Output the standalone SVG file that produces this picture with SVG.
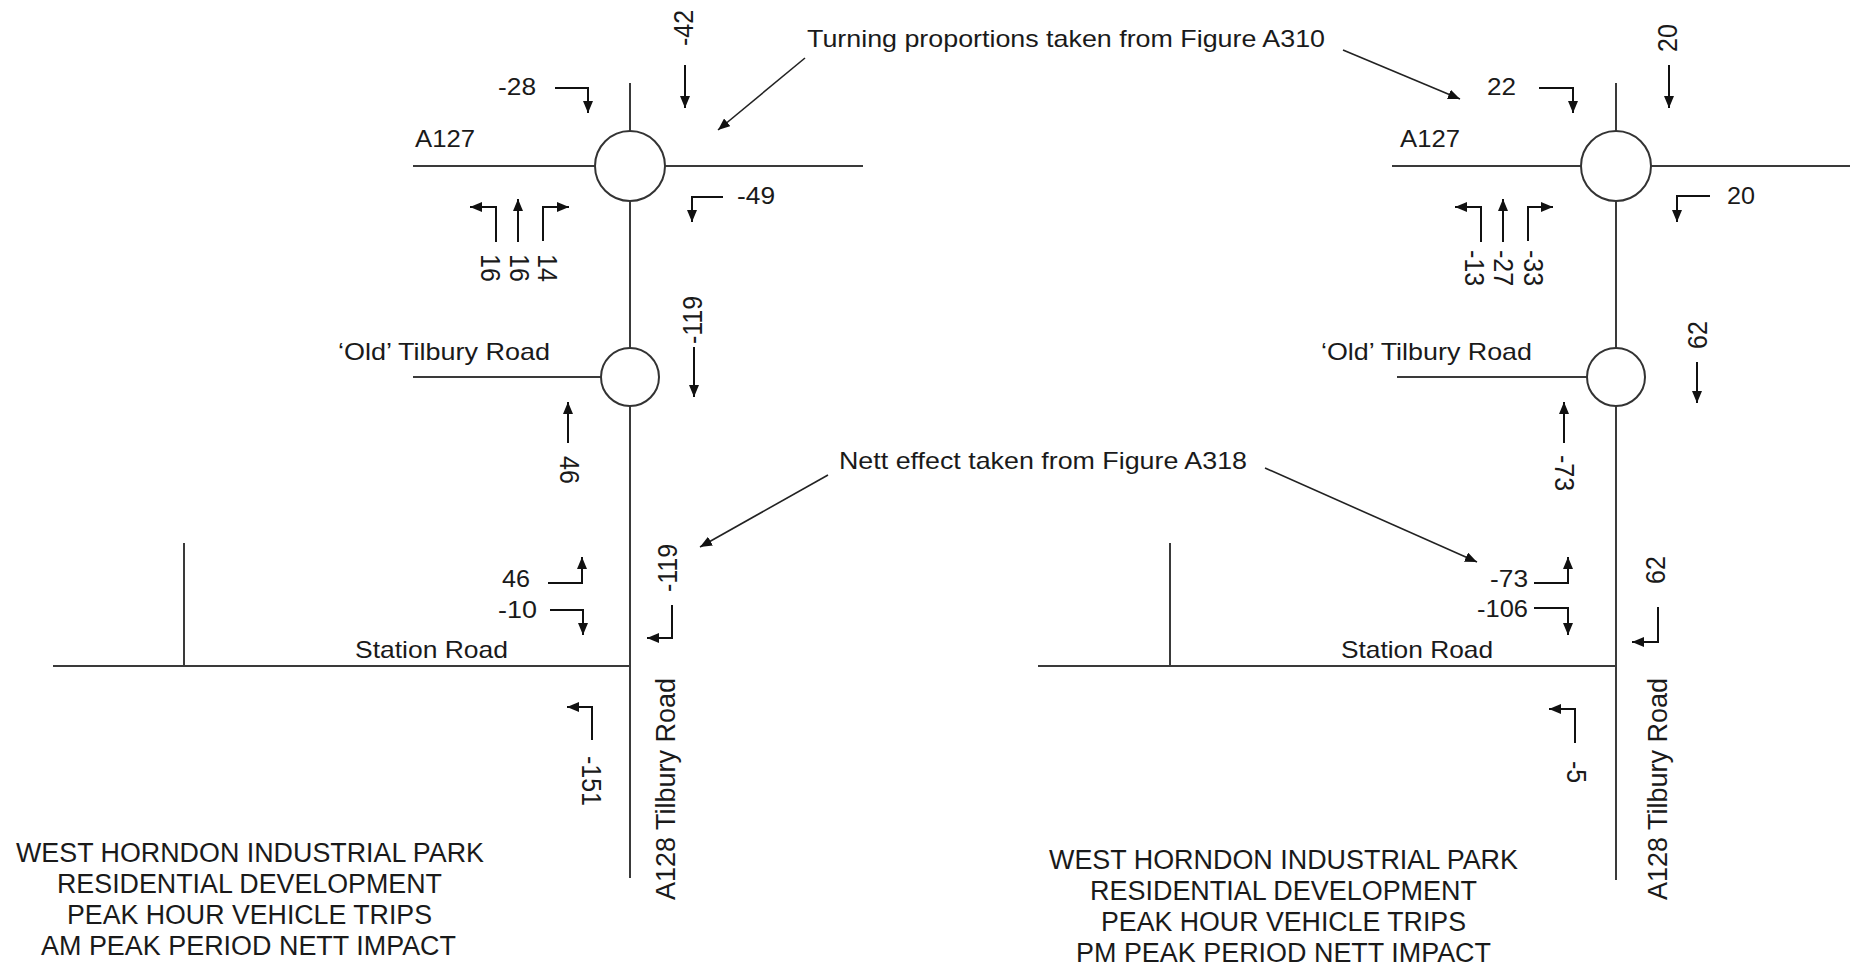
<svg xmlns="http://www.w3.org/2000/svg" width="1855" height="968" viewBox="0 0 1855 968">
<style>
.road{stroke:#3a3a3a;stroke-width:2;fill:none}
.rb{stroke:#333;stroke-width:2;fill:#fff}
.arr{stroke:#111;stroke-width:2;fill:none;marker-end:url(#ah)}
.ptr{stroke:#222;stroke-width:1.6;fill:none;marker-end:url(#ah)}
text{font-family:"Liberation Sans",Arial,sans-serif;fill:#1a1a1a}
.t{font-size:24px}
.ti{font-size:27px;text-anchor:start}
.r{font-size:25px;text-anchor:middle}
</style>
<defs>
<marker id="ah" viewBox="0 0 12 10" refX="12" refY="5" markerWidth="12" markerHeight="10" markerUnits="userSpaceOnUse" orient="auto">
<path d="M0,0 L12,5 L0,10 z" fill="#111"/>
</marker>
</defs>
<rect width="1855" height="968" fill="#fff"/>

<!-- LEFT DIAGRAM -->
<g id="left-roads">
<path class="road" d="M413,166 H863"/>
<path class="road" d="M630,83 V878"/>
<path class="road" d="M413,377 H601"/>
<path class="road" d="M53,666 H630"/>
<path class="road" d="M184,543 V666"/>
</g>
<g id="left-a127-roundabout"><circle class="rb" cx="630" cy="166" r="35"/></g>
<g id="left-oldtilbury-roundabout"><circle class="rb" cx="630" cy="377" r="29"/></g>

<g id="left-connectors">
<path class="arr" d="M555,88 H588 V113"/>
<path class="arr" d="M685,65 V108"/>
<path class="arr" d="M723,197 H692 V222"/>
<path class="arr" d="M496,242 V207 H470"/>
<path class="arr" d="M518,242 V199"/>
<path class="arr" d="M543,241 V207 H569"/>
<path class="arr" d="M694,347 V397"/>
<path class="arr" d="M568,443 V402"/>
<path class="arr" d="M672,605 V638 H647"/>
<path class="arr" d="M548,583 H582 V557"/>
<path class="arr" d="M550,610 H583 V635"/>
<path class="arr" d="M592,740 V707 H567"/>
<path class="ptr" d="M805,58 L718,130"/>
<path class="ptr" d="M828,475 L700,547"/>
</g>

<g id="left-labels">
<text class="t" x="415" y="147" textLength="60" lengthAdjust="spacingAndGlyphs">A127</text>
<text class="t" x="498" y="95" textLength="38" lengthAdjust="spacingAndGlyphs">-28</text>
<text class="t" x="737" y="204" textLength="38" lengthAdjust="spacingAndGlyphs">-49</text>
<text class="t" x="338" y="360" textLength="212" lengthAdjust="spacingAndGlyphs">‘Old’ Tilbury Road</text>
<text class="t" x="502" y="587" textLength="28" lengthAdjust="spacingAndGlyphs">46</text>
<text class="t" x="498" y="618" textLength="39" lengthAdjust="spacingAndGlyphs">-10</text>
<text class="t" x="355" y="658" textLength="153" lengthAdjust="spacingAndGlyphs">Station Road</text>
<text class="r" transform="translate(693,28) scale(1.12,1) rotate(-90)">-42</text>
<text class="r" transform="translate(481,268) scale(1.12,1) rotate(90)">16</text>
<text class="r" transform="translate(510,268) scale(1.12,1) rotate(90)">16</text>
<text class="r" transform="translate(538,268) scale(1.12,1) rotate(90)">14</text>
<text class="r" transform="translate(702,320) scale(1.12,1) rotate(-90)">-119</text>
<text class="r" transform="translate(560,470) scale(1.12,1) rotate(90)">46</text>
<text class="r" transform="translate(677,568) scale(1.12,1) rotate(-90)">-119</text>
<text class="r" transform="translate(582,781) scale(1.12,1) rotate(90)">-151</text>
<text class="r" transform="translate(675,789) scale(1.12,1) rotate(-90)" textLength="222" lengthAdjust="spacingAndGlyphs">A128 Tilbury Road</text>
</g>

<g id="left-title">
<text class="ti" x="16" y="862" textLength="468" lengthAdjust="spacingAndGlyphs">WEST HORNDON INDUSTRIAL PARK</text>
<text class="ti" x="57" y="893" textLength="385" lengthAdjust="spacingAndGlyphs">RESIDENTIAL DEVELOPMENT</text>
<text class="ti" x="67" y="924" textLength="365" lengthAdjust="spacingAndGlyphs">PEAK HOUR VEHICLE TRIPS</text>
<text class="ti" x="41" y="955" textLength="415" lengthAdjust="spacingAndGlyphs">AM PEAK PERIOD NETT IMPACT</text>
</g>

<!-- NOTES -->
<g id="note-turning">
<text class="t" x="807" y="47" textLength="518" lengthAdjust="spacingAndGlyphs">Turning proportions taken from Figure A310</text>
</g>
<g id="note-nett">
<text class="t" x="839" y="469" textLength="408" lengthAdjust="spacingAndGlyphs">Nett effect taken from Figure A318</text>
</g>

<!-- RIGHT DIAGRAM -->
<g id="right-roads">
<path class="road" d="M1392,166 H1850"/>
<path class="road" d="M1616,83 V880"/>
<path class="road" d="M1397,377 H1587"/>
<path class="road" d="M1038,666 H1616"/>
<path class="road" d="M1170,543 V666"/>
</g>
<g id="right-a127-roundabout"><circle class="rb" cx="1616" cy="166" r="35"/></g>
<g id="right-oldtilbury-roundabout"><circle class="rb" cx="1616" cy="377" r="29"/></g>

<g id="right-connectors">
<path class="arr" d="M1539,88 H1573 V113"/>
<path class="arr" d="M1669,65 V108"/>
<path class="arr" d="M1710,196 H1677 V222"/>
<path class="arr" d="M1481,242 V207 H1455"/>
<path class="arr" d="M1503,242 V199"/>
<path class="arr" d="M1528,241 V207 H1553"/>
<path class="arr" d="M1697,362 V403"/>
<path class="arr" d="M1564,443 V402"/>
<path class="arr" d="M1534,583 H1568 V557"/>
<path class="arr" d="M1534,608 H1568 V635"/>
<path class="arr" d="M1658,607 V642 H1632"/>
<path class="arr" d="M1575,743 V709 H1549"/>
<path class="ptr" d="M1343,50 L1460,99"/>
<path class="ptr" d="M1265,468 L1477,562"/>
</g>

<g id="right-labels">
<text class="t" x="1400" y="147" textLength="60" lengthAdjust="spacingAndGlyphs">A127</text>
<text class="t" x="1487" y="95" textLength="29" lengthAdjust="spacingAndGlyphs">22</text>
<text class="t" x="1727" y="204" textLength="28" lengthAdjust="spacingAndGlyphs">20</text>
<text class="t" x="1321" y="360" textLength="211" lengthAdjust="spacingAndGlyphs">‘Old’ Tilbury Road</text>
<text class="t" x="1490" y="587" textLength="38" lengthAdjust="spacingAndGlyphs">-73</text>
<text class="t" x="1477" y="617" textLength="51" lengthAdjust="spacingAndGlyphs">-106</text>
<text class="t" x="1341" y="658" textLength="152" lengthAdjust="spacingAndGlyphs">Station Road</text>
<text class="r" transform="translate(1677,38) scale(1.12,1) rotate(-90)">20</text>
<text class="r" transform="translate(1465,268) scale(1.12,1) rotate(90)">-13</text>
<text class="r" transform="translate(1494,268) scale(1.12,1) rotate(90)">-27</text>
<text class="r" transform="translate(1524,268) scale(1.12,1) rotate(90)">-33</text>
<text class="r" transform="translate(1707,335) scale(1.12,1) rotate(-90)">62</text>
<text class="r" transform="translate(1555,473) scale(1.12,1) rotate(90)">-73</text>
<text class="r" transform="translate(1665,570) scale(1.12,1) rotate(-90)">62</text>
<text class="r" transform="translate(1567,772) scale(1.12,1) rotate(90)">-5</text>
<text class="r" transform="translate(1667,789) scale(1.12,1) rotate(-90)" textLength="222" lengthAdjust="spacingAndGlyphs">A128 Tilbury Road</text>
</g>

<g id="right-title">
<text class="ti" x="1049" y="869" textLength="469" lengthAdjust="spacingAndGlyphs">WEST HORNDON INDUSTRIAL PARK</text>
<text class="ti" x="1090" y="900" textLength="387" lengthAdjust="spacingAndGlyphs">RESIDENTIAL DEVELOPMENT</text>
<text class="ti" x="1101" y="931" textLength="365" lengthAdjust="spacingAndGlyphs">PEAK HOUR VEHICLE TRIPS</text>
<text class="ti" x="1076" y="962" textLength="415" lengthAdjust="spacingAndGlyphs">PM PEAK PERIOD NETT IMPACT</text>
</g>
</svg>
